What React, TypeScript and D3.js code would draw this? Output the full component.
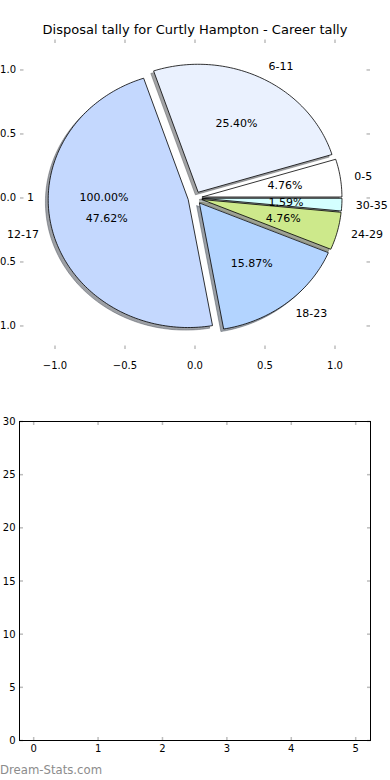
import * as d3 from "d3";

// pie: disposal tally by range
const sliceLabels = ["0-5", "6-11", "12-17", "18-23", "24-29", "30-35"];
const sliceCounts = [3, 16, 30, 10, 3, 1];
const sliceColors = ["#ffffff", "#eaf1fe", "#c4d8fe", "#b3d4ff", "#cde98b", "#d4ffff"];

// the stray single-slice pie drawn on top
const overlayLabels = ["1"];
const overlayCounts = [1];

const pieTicks = [-1, -0.5, 0, 0.5, 1];
const barXTicks = [0, 1, 2, 3, 4, 5];
const barYTicks = [0, 5, 10, 15, 20, 25, 30];

const FONT = "DejaVu Sans, sans-serif";
const TICK = "#bdbdbd";
const EXPLODE = 0.05;

const fmtTick = (v: number) => d3.format(".1f")(v).replace("-", "\u2212");
const fmtPct = (v: number) => d3.format(".2f")(v) + "%";

export default function App() {
  const W = 390;
  const H = 780;

  const xPie = d3.scaleLinear().domain([-1.25, 1.25]).range([20, 370]);
  const yPie = d3.scaleLinear().domain([-1.18, 1.238]).range([349, 39.5]);

  const xBar = d3.scaleLinear().domain([-0.22, 5.23]).range([19.5, 370.5]);
  const yBar = d3.scaleLinear().domain([0, 30]).range([740.5, 421.5]);

  const line = d3
    .line<[number, number]>()
    .x((d) => xPie(d[0]))
    .y((d) => yPie(d[1]));

  // angles counter-clockwise from 3 o'clock, like matplotlib
  const pie = d3.pie<number>().sort(null).startAngle(0).endAngle(2 * Math.PI);

  const wedgePath = (cx: number, cy: number, a0: number, a1: number) => {
    const n = Math.max(2, Math.ceil((a1 - a0) / 0.02));
    const pts: [number, number][] = [[cx, cy]];
    d3.range(n + 1).forEach((i) => {
      const t = a0 + ((a1 - a0) * i) / n;
      pts.push([cx + Math.cos(t), cy + Math.sin(t)]);
    });
    return line(pts) + "Z";
  };

  const total = d3.sum(sliceCounts);
  const slices = pie(sliceCounts).map((a, i) => {
    const mid = (a.startAngle + a.endAngle) / 2;
    return {
      label: sliceLabels[i],
      color: sliceColors[i],
      pct: (100 * sliceCounts[i]) / total,
      a0: a.startAngle,
      a1: a.endAngle,
      mid,
      cx: EXPLODE * Math.cos(mid),
      cy: EXPLODE * Math.sin(mid),
    };
  });

  const overlayTotal = d3.sum(overlayCounts);
  const overlay = pie(overlayCounts).map((a, i) => {
    const mid = (a.startAngle + a.endAngle) / 2;
    return {
      label: overlayLabels[i],
      pct: (100 * overlayCounts[i]) / overlayTotal,
      mid,
      cx: EXPLODE * Math.cos(mid),
      cy: EXPLODE * Math.sin(mid),
    };
  });

  const shadowColor = (c: string) => {
    const rgb = d3.rgb(c);
    return `rgba(${rgb.r * 0.3},${rgb.g * 0.3},${rgb.b * 0.3},0.5)`;
  };

  const labelAt = (cx: number, cy: number, mid: number, dist: number) => ({
    x: xPie(cx + dist * Math.cos(mid)),
    y: yPie(cy + dist * Math.sin(mid)),
  });

  const allPieText = [...slices, ...overlay];

  return (
    <>
      <style>{"body{margin:0}"}</style>
      <svg width={W} height={H} style={{ display: "block", background: "#fff" }} fontFamily={FONT}>
        <text x={195} y={34} textAnchor="middle" fontSize={13} fill="#000">
          Disposal tally for Curtly Hampton - Career tally
        </text>

        {/* pie axes ticks (no frame) */}
        {pieTicks.map((t) => (
          <g key={"px" + t}>
            <line x1={xPie(t)} x2={xPie(t)} y1={39.5} y2={43} stroke={TICK} strokeWidth={1.5} />
            <line x1={xPie(t)} x2={xPie(t)} y1={349} y2={345.5} stroke={TICK} strokeWidth={1.5} />
            <text x={xPie(t)} y={365} textAnchor="middle" dominantBaseline="central" fontSize={10}>
              {fmtTick(t)}
            </text>
          </g>
        ))}
        {pieTicks.map((t) => (
          <g key={"py" + t}>
            <line x1={20} x2={23.5} y1={yPie(t)} y2={yPie(t)} stroke={TICK} strokeWidth={1.5} />
            <line x1={370} x2={366.5} y1={yPie(t)} y2={yPie(t)} stroke={TICK} strokeWidth={1.5} />
            <text x={16} y={yPie(t)} textAnchor="end" dominantBaseline="central" fontSize={10}>
              {fmtTick(t)}
            </text>
          </g>
        ))}

        {/* shadows under every wedge */}
        {slices.map((s) => (
          <path
            key={"sh" + s.label}
            d={wedgePath(s.cx - 0.02, s.cy - 0.02, s.a0, s.a1)}
            fill={shadowColor(s.color)}
            stroke={shadowColor(s.color)}
            strokeWidth={0.8}
          />
        ))}
        {slices.map((s) => (
          <path
            key={"w" + s.label}
            d={wedgePath(s.cx, s.cy, s.a0, s.a1)}
            fill={s.color}
            stroke="#000"
            strokeWidth={0.8}
            strokeLinejoin="round"
          />
        ))}

        {allPieText.map((s, i) => {
          const l = labelAt(s.cx, s.cy, s.mid, 1.1);
          const p = labelAt(s.cx, s.cy, s.mid, 0.6);
          return (
            <g key={"t" + i} fontSize={11}>
              <text
                x={l.x}
                y={l.y}
                textAnchor={Math.cos(s.mid) * 1.1 + s.cx < 0 ? "end" : "start"}
                dominantBaseline="central"
              >
                {s.label}
              </text>
              <text x={p.x} y={p.y} textAnchor="middle" dominantBaseline="central">
                {fmtPct(s.pct)}
              </text>
            </g>
          );
        })}

        {/* empty bar axes */}
        {barXTicks.map((t) => (
          <g key={"bx" + t}>
            <line x1={xBar(t)} x2={xBar(t)} y1={421.5} y2={425} stroke={TICK} strokeWidth={1.5} />
            <line x1={xBar(t)} x2={xBar(t)} y1={740.5} y2={737} stroke={TICK} strokeWidth={1.5} />
            <text x={xBar(t)} y={745} textAnchor="middle" dominantBaseline="hanging" fontSize={10}>
              {t}
            </text>
          </g>
        ))}
        {barYTicks.map((t) => (
          <g key={"by" + t}>
            <line x1={19.5} x2={23} y1={yBar(t)} y2={yBar(t)} stroke={TICK} strokeWidth={1.5} />
            <line x1={370.5} x2={367} y1={yBar(t)} y2={yBar(t)} stroke={TICK} strokeWidth={1.5} />
            <text x={15.5} y={yBar(t)} textAnchor="end" dominantBaseline="central" fontSize={10}>
              {t}
            </text>
          </g>
        ))}
        <rect
          x={19.5}
          y={421.5}
          width={351}
          height={319}
          fill="none"
          stroke="#000"
          strokeWidth={1}
        />

        <text x={0} y={774} fontSize={11.7} fill="#8c8c8c">
          Dream-Stats.com
        </text>
      </svg>
    </>
  );
}
